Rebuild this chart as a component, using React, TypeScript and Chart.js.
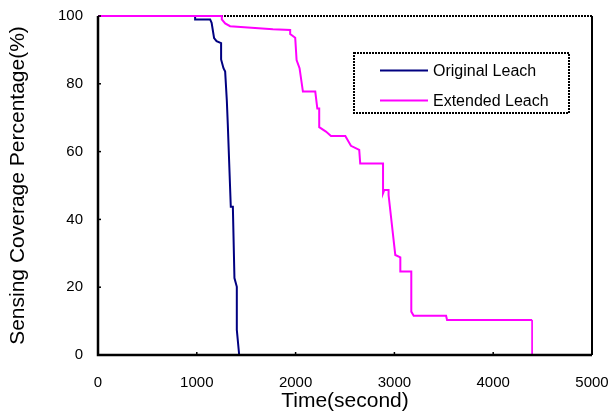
import React, { useEffect, useRef } from "react";
import { Chart, registerables } from "chart.js";

Chart.register(...registerables);

const xTicks = [0, 1000, 2000, 3000, 4000, 5000];
const yTicks = [0, 20, 40, 60, 80, 100];

const origTime = [0, 983, 983, 1135, 1150, 1175, 1200, 1246, 1246, 1270, 1287, 1304, 1314, 1344, 1365, 1381, 1405, 1405, 1429];
const origCov = [100, 100, 99, 99, 98, 93.5, 92.6, 92, 87.2, 84.6, 83.6, 75, 67.8, 43.7, 43.7, 22.7, 20.1, 7.4, 0];

const extTime = [0, 1253, 1253, 1287, 1337, 1770, 1945, 1945, 1996, 2010, 2040, 2074, 2199, 2220, 2239, 2239, 2307, 2358, 2503, 2560, 2644, 2654, 2885, 2885, 2898, 2941, 2941, 3009, 3060, 3060, 3171, 3171, 3195, 3523, 3533, 4394, 4394];
const extCov = [100, 100, 99, 97.8, 97, 96.1, 95.9, 94.7, 93.6, 87, 84.6, 77.7, 77.7, 72.7, 72.7, 67.2, 65.9, 64.6, 64.6, 61.7, 60.5, 56.5, 56.5, 47.7, 48.7, 48.7, 47.2, 29.5, 28.8, 24.6, 24.6, 12.8, 11.6, 11.6, 10.3, 10.3, 0];

const seriesNames = ["Original Leach", "Extended Leach"];
const seriesColors = ["#000080", "#FF00FF"];

const FONT = "Arial, 'Liberation Sans', sans-serif";

const framePlugin = {
  id: "frame",
  beforeDatasetsDraw(chart: any) {
    const { ctx, chartArea } = chart;
    const { left, right, top, bottom } = chartArea;
    ctx.save();
    ctx.strokeStyle = "#000";
    ctx.lineWidth = 2;
    ctx.beginPath();
    ctx.moveTo(right, bottom);
    ctx.lineTo(right, top);
    ctx.stroke();
    ctx.setLineDash([2, 1]);
    ctx.beginPath();
    ctx.moveTo(left, top);
    ctx.lineTo(right, top);
    ctx.stroke();
    ctx.setLineDash([]);
    ctx.restore();
  },
  afterDatasetsDraw(chart: any) {
    const { ctx, chartArea } = chart;
    const { left, right, top, bottom } = chartArea;
    ctx.save();
    ctx.strokeStyle = "#000";
    ctx.lineWidth = 2.5;
    ctx.beginPath();
    ctx.moveTo(left, top);
    ctx.lineTo(left, bottom);
    ctx.lineTo(right, bottom);
    ctx.stroke();
    ctx.lineWidth = 1.5;
    const xs = chart.scales.x;
    const ys = chart.scales.y;
    xTicks.forEach((v) => {
      const px = xs.getPixelForValue(v);
      ctx.beginPath();
      ctx.moveTo(px, bottom);
      ctx.lineTo(px, bottom - 3);
      ctx.stroke();
    });
    yTicks.forEach((v) => {
      const py = ys.getPixelForValue(v);
      ctx.beginPath();
      ctx.moveTo(left, py);
      ctx.lineTo(left + 3, py);
      ctx.stroke();
    });
    const bx = 354, by = 53, bw = 215, bh = 60;
    ctx.fillStyle = "#fff";
    ctx.fillRect(bx, by, bw, bh);
    ctx.lineWidth = 2;
    ctx.strokeStyle = "#000";
    ctx.setLineDash([2, 1]);
    ctx.strokeRect(bx, by, bw, bh);
    ctx.setLineDash([]);
    ctx.font = `16px ${FONT}`;
    ctx.textBaseline = "middle";
    ctx.textAlign = "left";
    seriesNames.forEach((name, i) => {
      const ly = 70.5 + i * 30;
      ctx.strokeStyle = seriesColors[i];
      ctx.lineWidth = 2;
      ctx.beginPath();
      ctx.moveTo(380, ly);
      ctx.lineTo(428, ly);
      ctx.stroke();
      ctx.fillStyle = "#000";
      ctx.fillText(name, 433, ly + 1);
    });
    ctx.restore();
  },
};

export default function App() {
  const ref = useRef<HTMLCanvasElement>(null);
  useEffect(() => {
    document.body.style.margin = "0";
    const canvas = ref.current!;
    const toPts = (t: number[], c: number[]) => t.map((x, i) => ({ x, y: c[i] }));
    const chart = new Chart(canvas, {
      type: "scatter",
      data: {
        datasets: [
          {
            label: seriesNames[0],
            data: toPts(origTime, origCov),
            showLine: true,
            borderColor: seriesColors[0],
            backgroundColor: seriesColors[0],
            borderWidth: 2,
            pointRadius: 0,
            order: 1,
            clip: 4,
          },
          {
            label: seriesNames[1],
            data: toPts(extTime, extCov),
            showLine: true,
            borderColor: seriesColors[1],
            backgroundColor: seriesColors[1],
            borderWidth: 2,
            pointRadius: 0,
            order: 0,
            clip: 4,
            segment: {
              borderWidth: (ctx: any) => (ctx.p1DataIndex === extTime.length - 1 ? 1 : 2),
            },
          },
        ],
      },
      options: {
        responsive: false,
        animation: false,
        events: [],
        layout: { padding: { top: 16, right: 18, left: 0, bottom: 0 } },
        plugins: { legend: { display: false }, tooltip: { enabled: false } },
        scales: {
          x: {
            type: "linear",
            min: 0,
            max: 5000,
            afterFit: (s: any) => { s.height = 65; s.paddingLeft = 0; s.paddingRight = 0; },
            afterBuildTicks: (s: any) => { s.ticks = xTicks.map((v) => ({ value: v })); },
            grid: { display: false, drawTicks: false },
            border: { display: false },
            ticks: { color: "#000", font: { family: FONT, size: 15 }, padding: 19, maxRotation: 0, callback: (v: any) => String(v) },
            title: { display: true, text: "Time(second)", color: "#000", font: { family: FONT, size: 21 }, padding: { top: 0, bottom: 6 } },
          },
          y: {
            type: "linear",
            min: 0,
            max: 100,
            afterFit: (s: any) => { s.width = 98; s.paddingTop = 0; s.paddingBottom = 0; },
            afterBuildTicks: (s: any) => { s.ticks = yTicks.map((v) => ({ value: v })); },
            grid: { display: false, drawTicks: false },
            border: { display: false },
            ticks: { color: "#000", font: { family: FONT, size: 15 }, padding: 15, callback: (v: any) => String(v) },
            title: { display: true, text: "Sensing Coverage Percentage(%)", color: "#000", font: { family: FONT, size: 21 }, padding: { top: 6, bottom: 4 } },
          },
        },
      },
      plugins: [framePlugin],
    });
    return () => chart.destroy();
  }, []);
  return (
    <div style={{ width: 610, height: 420 }}>
      <canvas ref={ref} width={610} height={420} style={{ display: "block" }} />
    </div>
  );
}
